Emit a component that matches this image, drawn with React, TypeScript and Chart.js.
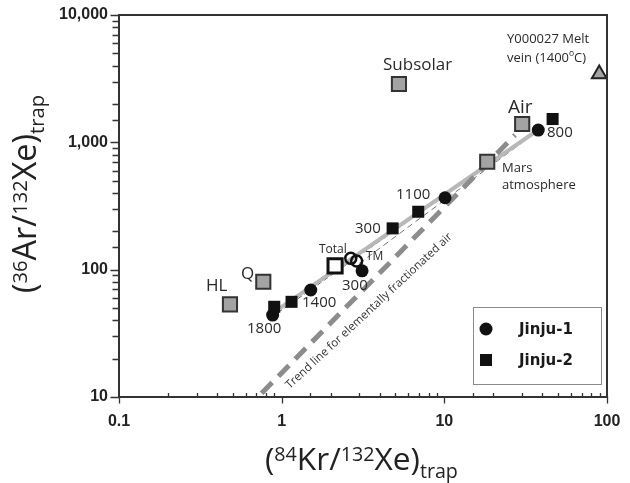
import React, { useEffect, useRef } from "react";
import { Chart, registerables } from "chart.js";

Chart.register(...registerables);

// ---- data ----
const jinju1Kr = [0.88, 1.51, 3.12, 10.1, 37.8];
const jinju1Ar = [44.0, 69.2, 98.0, 367, 1249];
const jinju2Kr = [0.9, 1.15, 4.81, 6.91, 46.3];
const jinju2Ar = [51.1, 55.9, 211, 285, 1524];
const refNames = ["HL", "Q", "Subsolar", "Mars atmosphere", "Air"];
const refKr = [0.481, 0.771, 5.26, 18.35, 30.1];
const refAr = [53.4, 80.4, 2871, 704, 1392];
const meltVeinKr = [89.6];
const meltVeinAr = [3440];
const totalKr = [2.13];
const totalAr = [107];
const tmKr = [2.66, 2.89];
const tmAr = [122.7, 116.8];
const trendKr = [0.753, 27.2];
const trendAr = [10.7, 1140];
const fitKr = [0.976, 37.6];
const fitAr = [49.9, 1250];
const fitAKr = [0.95, 37.6];
const fitAAr = [46, 1250];
const fitBKr = [3.0, 36];
const fitBAr = [112, 1180];
const xTickValues = [0.1, 1, 10, 100];
const xTickLabels = ["0.1", "1", "10", "100"];
const yTickValues = [10, 100, 1000, 10000];
const yTickLabels = ["10", "100", "1,000", "10,000"];
const legendLabels = ["Jinju-1", "Jinju-2"];

const zip = (xs: number[], ys: number[]) => xs.map((x, i) => ({ x, y: ys[i] }));

const FONT = '"Open Sans", "Noto Sans", sans-serif';

type Part = { t: string; k: "m" | "sup" | "sub" };

function drawRich(ctx: CanvasRenderingContext2D, parts: Part[], cx: number, y: number, targetW: number) {
  const base = 29;
  const small = 18;
  let w = 0;
  for (const p of parts) {
    ctx.font = `${p.k === "m" ? base : small}px ${FONT}`;
    w += ctx.measureText(p.t).width;
  }
  const k = targetW / w;
  let x = cx - targetW / 2;
  ctx.textAlign = "left";
  ctx.textBaseline = "alphabetic";
  for (const p of parts) {
    const size = (p.k === "m" ? base : small) * k;
    ctx.font = `${size}px ${FONT}`;
    const dy = p.k === "sup" ? -0.29 * base * k : p.k === "sub" ? 0.26 * base * k : 0;
    ctx.fillText(p.t, x, y + dy);
    x += ctx.measureText(p.t).width;
  }
}

const annotations = [
  { text: "Subsolar", x: 383, y: 70, size: 17 },
  { text: "Air", x: 508, y: 113, size: 19 },
  { text: "800", x: 547, y: 137, size: 15 },
  { text: "Mars", x: 502, y: 172, size: 13 },
  { text: "atmosphere", x: 502, y: 189, size: 13 },
  { text: "Y000027 Melt", x: 507, y: 43, size: 13 },
  { text: "1100", x: 396, y: 199, size: 15 },
  { text: "300", x: 355, y: 233, size: 15 },
  { text: "Total", x: 319, y: 253, size: 12 },
  { text: "TM", x: 366, y: 259.5, size: 12 },
  { text: "300", x: 342, y: 290, size: 15 },
  { text: "1400", x: 302, y: 307, size: 15 },
  { text: "1800", x: 247, y: 333, size: 15 },
  { text: "HL", x: 206, y: 291, size: 17 },
  { text: "Q", x: 241, y: 279, size: 17 },
];

const isMajor = (v: number) => Math.abs(Math.log10(v) - Math.round(Math.log10(v))) < 1e-6;

const decorPlugin = {
  id: "decor",
  afterDatasetsDraw(chart: any) {
    const ctx: CanvasRenderingContext2D = chart.ctx;
    const { left, right, top, bottom } = chart.chartArea;
    const xs = chart.scales.x;
    const ys = chart.scales.y;
    ctx.save();
    // frame
    ctx.strokeStyle = "#333";
    ctx.lineWidth = 2;
    ctx.strokeRect(left, top, right - left, bottom - top);
    // ticks
    ctx.lineWidth = 1.3;
    ctx.beginPath();
    for (const t of ys.ticks) {
      const py = Math.round(ys.getPixelForValue(t.value)) + 0.5;
      const major = isMajor(t.value);
      ctx.moveTo(left - (major ? 8.5 : 6.5), py);
      ctx.lineTo(left + (major ? 1 : 0), py);
    }
    for (const t of xs.ticks) {
      const px = Math.round(xs.getPixelForValue(t.value)) + 0.5;
      const major = isMajor(t.value);
      if (major) {
        ctx.moveTo(px, bottom - 1);
        ctx.lineTo(px, bottom + 6.5);
      } else {
        ctx.moveTo(px, bottom - 4);
        ctx.lineTo(px, bottom);
      }
    }
    ctx.stroke();

    // trend line label
    const p1x = xs.getPixelForValue(trendKr[0]);
    const p1y = ys.getPixelForValue(trendAr[0]);
    const p2x = xs.getPixelForValue(trendKr[1]);
    const p2y = ys.getPixelForValue(trendAr[1]);
    const ang = Math.atan2(p2y - p1y, p2x - p1x) + 0.045;
    ctx.save();
    ctx.translate(369, 311);
    ctx.rotate(ang);
    ctx.fillStyle = "#333";
    ctx.font = `11.5px ${FONT}`;
    ctx.textAlign = "center";
    ctx.textBaseline = "middle";
    ctx.fillText("Trend line for elementally fractionated air", 0, 0);
    ctx.restore();

    // annotations
    ctx.fillStyle = "#2a2a2a";
    ctx.textAlign = "left";
    ctx.textBaseline = "alphabetic";
    for (const a of annotations) {
      ctx.font = `${a.size}px ${FONT}`;
      ctx.fillText(a.text, a.x, a.y);
    }
    // "vein (1400ºC)" with superscript o
    ctx.font = `13px ${FONT}`;
    let vx = 507;
    ctx.fillText("vein (1400", vx, 62);
    vx += ctx.measureText("vein (1400").width;
    ctx.font = `8.5px ${FONT}`;
    ctx.fillText("o", vx, 56);
    vx += ctx.measureText("o").width;
    ctx.font = `13px ${FONT}`;
    ctx.fillText("C)", vx, 62);

    // legend
    ctx.strokeStyle = "#8a8a8a";
    ctx.lineWidth = 1;
    ctx.strokeRect(473.5, 307.5, 128, 77);
    ctx.fillStyle = "#111";
    ctx.beginPath();
    ctx.arc(486, 329, 6.5, 0, Math.PI * 2);
    ctx.fill();
    ctx.fillRect(480, 354, 12, 12);
    ctx.font = 'bold 15px "DejaVu Sans", sans-serif';
    ctx.textBaseline = "middle";
    ctx.fillStyle = "#1a1a1a";
    ctx.fillText(legendLabels[0], 519, 330);
    ctx.fillText(legendLabels[1], 519, 361);

    // axis titles
    ctx.fillStyle = "#222";
    drawRich(
      ctx,
      [
        { t: "(", k: "m" },
        { t: "84", k: "sup" },
        { t: "Kr/", k: "m" },
        { t: "132", k: "sup" },
        { t: "Xe)", k: "m" },
        { t: "trap", k: "sub" },
      ],
      361.5,
      470,
      193
    );
    ctx.save();
    ctx.translate(36, 194);
    ctx.rotate(-Math.PI / 2);
    drawRich(
      ctx,
      [
        { t: "(", k: "m" },
        { t: "36", k: "sup" },
        { t: "Ar/", k: "m" },
        { t: "132", k: "sup" },
        { t: "Xe)", k: "m" },
        { t: "trap", k: "sub" },
      ],
      0,
      0,
      198
    );
    ctx.restore();
    ctx.restore();
  },
};

const tickFont = { family: '"Liberation Sans", Arial, sans-serif', size: 16, weight: "bold" as const };

const zeroPad = (s: any) => {
  s.paddingLeft = 0;
  s.paddingRight = 0;
  s.paddingTop = 0;
  s.paddingBottom = 0;
};

export default function App() {
  const ref = useRef<HTMLCanvasElement | null>(null);
  useEffect(() => {
    if (!ref.current) return;
    const lineDs = (xs: number[], ys: number[], color: string, width: number, dash: number[], label: string) => ({
      label,
      data: zip(xs, ys),
      showLine: true,
      pointRadius: 0,
      borderColor: color,
      borderWidth: width,
      borderDash: dash,
      fill: false,
      order: 10,
    });
    const chart = new Chart(ref.current, {
      type: "scatter",
      data: {
        datasets: [
          lineDs(trendKr, trendAr, "#8c8c8c", 5, [15, 9], "trend"),
          lineDs(fitKr, fitAr, "#b8b8b8", 4, [], "fit"),
          lineDs(fitAKr, fitAAr, "#555", 1, [5, 3], "fitA"),
          lineDs(fitBKr, fitBAr, "#777", 1, [6, 4], "fitB"),
          {
            label: "references",
            data: zip(refKr, refAr),
            pointStyle: "rect",
            pointRadius: 10,
            backgroundColor: "#a3a3a3",
            borderColor: "#333",
            borderWidth: 2,
            order: 2,
          },
          {
            label: "Y000027",
            data: zip(meltVeinKr, meltVeinAr),
            pointStyle: "triangle",
            pointRadius: 8.5,
            backgroundColor: "#a3a3a3",
            borderColor: "#222",
            borderWidth: 2,
            order: 2,
          },
          {
            label: "Total",
            data: zip(totalKr, totalAr),
            pointStyle: "rect",
            pointRadius: 10,
            backgroundColor: "#fff",
            borderColor: "#111",
            borderWidth: 3,
            order: 2,
          },
          {
            label: legendLabels[1],
            data: zip(jinju2Kr, jinju2Ar),
            pointStyle: "rect",
            pointRadius: 8.5,
            backgroundColor: "#111",
            borderColor: "#111",
            borderWidth: 0,
            order: 1,
          },
          {
            label: legendLabels[0],
            data: zip(jinju1Kr, jinju1Ar),
            pointStyle: "circle",
            pointRadius: 6.5,
            backgroundColor: "#111",
            borderColor: "#111",
            borderWidth: 0,
            order: 1,
          },
          {
            label: "TM",
            data: zip(tmKr, tmAr),
            pointStyle: "circle",
            pointRadius: 5.5,
            backgroundColor: "rgba(0,0,0,0)",
            borderColor: "#111",
            borderWidth: 2.5,
            order: 0,
          },
        ] as any,
      },
      options: {
        animation: false,
        responsive: false,
        maintainAspectRatio: false,
        events: [],
        layout: { padding: { top: 15, right: 23, left: 0, bottom: 0 } },
        plugins: { legend: { display: false }, tooltip: { enabled: false } },
        scales: {
          x: {
            type: "logarithmic",
            min: 0.1,
            max: 100,
            grid: { display: false, drawTicks: false },
            border: { display: false },
            ticks: {
              autoSkip: false,
              maxRotation: 0,
              minRotation: 0,
              padding: 15,
              color: "#222",
              font: tickFont,
              callback: (value: any) => {
                const v = Number(value);
                const i = xTickValues.findIndex((t) => Math.abs(t - v) / t < 1e-6);
                return i >= 0 ? xTickLabels[i] : "";
              },
            },
            afterFit: (s: any) => {
              s.height = 86;
              zeroPad(s);
            },
          },
          y: {
            type: "logarithmic",
            min: 10,
            max: 10000,
            grid: { display: false, drawTicks: false },
            border: { display: false },
            ticks: {
              autoSkip: false,
              padding: 11,
              color: "#222",
              font: tickFont,
              callback: (value: any) => {
                const v = Number(value);
                const i = yTickValues.findIndex((t) => Math.abs(t - v) / t < 1e-6);
                return i >= 0 ? yTickLabels[i] : "";
              },
            },
            afterFit: (s: any) => {
              s.width = 119;
              zeroPad(s);
            },
          },
        },
      } as any,
      plugins: [decorPlugin],
    });
    return () => chart.destroy();
  }, []);
  return (
    <div style={{ position: "absolute", left: 0, top: 0, width: 630, height: 483, background: "#fff" }}>
      <canvas ref={ref} width={630} height={483} style={{ display: "block" }} />
    </div>
  );
}
